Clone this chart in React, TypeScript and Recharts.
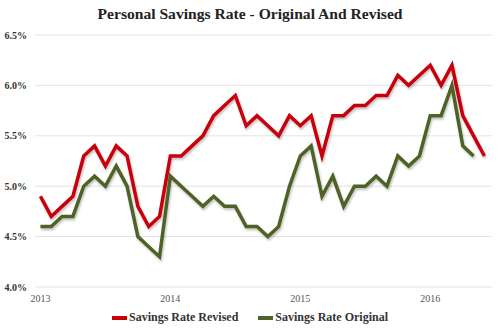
import React from 'react';
import { LineChart, Line, XAxis, YAxis, CartesianGrid } from 'recharts';

// monthly, Jan 2013 .. Jun 2016
const months = [
  '2013-01', '2013-02', '2013-03', '2013-04', '2013-05', '2013-06',
  '2013-07', '2013-08', '2013-09', '2013-10', '2013-11', '2013-12',
  '2014-01', '2014-02', '2014-03', '2014-04', '2014-05', '2014-06',
  '2014-07', '2014-08', '2014-09', '2014-10', '2014-11', '2014-12',
  '2015-01', '2015-02', '2015-03', '2015-04', '2015-05', '2015-06',
  '2015-07', '2015-08', '2015-09', '2015-10', '2015-11', '2015-12',
  '2016-01', '2016-02', '2016-03', '2016-04', '2016-05', '2016-06',
];

const revised = [
  4.9, 4.7, 4.8, 4.9, 5.3, 5.4, 5.2, 5.4, 5.3, 4.8, 4.6, 4.7,
  5.3, 5.3, 5.4, 5.5, 5.7, 5.8, 5.9, 5.6, 5.7, 5.6, 5.5, 5.7,
  5.6, 5.7, 5.3, 5.7, 5.7, 5.8, 5.8, 5.9, 5.9, 6.1, 6.0, 6.1,
  6.2, 6.0, 6.2, 5.7, 5.5, 5.3,
];

const original = [
  4.6, 4.6, 4.7, 4.7, 5.0, 5.1, 5.0, 5.2, 5.0, 4.5, 4.4, 4.3,
  5.1, 5.0, 4.9, 4.8, 4.9, 4.8, 4.8, 4.6, 4.6, 4.5, 4.6, 5.0,
  5.3, 5.4, 4.9, 5.1, 4.8, 5.0, 5.0, 5.1, 5.0, 5.3, 5.2, 5.3,
  5.7, 5.7, 6.0, 5.4, 5.3,
];

const yearTicks = ['2013-01', '2014-01', '2015-01', '2016-01'];
const yTicks = [4.0, 4.5, 5.0, 5.5, 6.0, 6.5];

const RED = '#c8000a';
const GREEN = '#4f6228';
const FONT = '"Liberation Serif", "DejaVu Serif", serif';

const data = months.map((m, i) => ({
  t: i,
  month: m,
  revised: revised[i],
  original: i < original.length ? original[i] : null,
}));

const xTicks = yearTicks.map((y) => months.indexOf(y));

export default function App() {
  return (
    <div
      style={{
        position: 'absolute',
        left: 0,
        top: 0,
        width: 500,
        height: 333,
        background: '#fff',
        fontFamily: FONT,
      }}
    >
      <div
        style={{
          position: 'absolute',
          top: 5,
          left: 0,
          width: 500,
          textAlign: 'center',
          fontSize: 15.6,
          fontWeight: 'bold',
          color: '#222',
        }}
      >
        Personal Savings Rate - Original And Revised
      </div>

      <div style={{ position: 'absolute', top: 0, left: 0 }}>
        <LineChart
          width={500}
          height={305}
          data={data}
          margin={{ top: 35, right: 8, left: 8, bottom: 0 }}
        >
          <defs>
            <filter id="lineShadow" x="-5%" y="-5%" width="110%" height="120%">
              <feDropShadow dx="1" dy="2" stdDeviation="1" floodColor="#000" floodOpacity="0.25" />
            </filter>
          </defs>
          <CartesianGrid stroke="#e3e3e3" vertical={false} />
          <XAxis
            type="number"
            dataKey="t"
            domain={[-0.5, 41.7]}
            ticks={xTicks}
            tickFormatter={(v: number) => months[v].slice(0, 4)}
            axisLine={false}
            tickLine={false}
            height={18}
            tick={{ fill: '#555', fontSize: 10, fontFamily: FONT }}
          />
          <YAxis
            domain={[4.0, 6.5]}
            ticks={yTicks}
            tickFormatter={(v: number) => v.toFixed(1) + '%'}
            axisLine={false}
            tickLine={false}
            width={27}
            interval={0}
            tick={{ fill: '#333', fontSize: 10, fontWeight: 'bold', fontFamily: FONT }}
          />
          <Line
            type="linear"
            dataKey="revised"
            stroke={RED}
            strokeWidth={3.5}
            dot={false}
            filter="url(#lineShadow)"
            isAnimationActive={false}
          />
          <Line
            type="linear"
            dataKey="original"
            stroke={GREEN}
            strokeWidth={3.5}
            dot={false}
            filter="url(#lineShadow)"
            isAnimationActive={false}
          />
        </LineChart>
      </div>

      <div
        style={{
          position: 'absolute',
          top: 310,
          left: 0,
          width: 500,
          display: 'flex',
          justifyContent: 'center',
          alignItems: 'center',
          fontSize: 12,
          fontWeight: 'bold',
          color: '#333',
        }}
      >
        <span style={{ display: 'inline-block', width: 15, height: 4, background: RED, marginRight: 2 }} />
        <span>Savings Rate Revised</span>
        <span style={{ display: 'inline-block', width: 15, height: 4, background: GREEN, marginLeft: 20, marginRight: 2 }} />
        <span>Savings Rate Original</span>
      </div>
    </div>
  );
}
